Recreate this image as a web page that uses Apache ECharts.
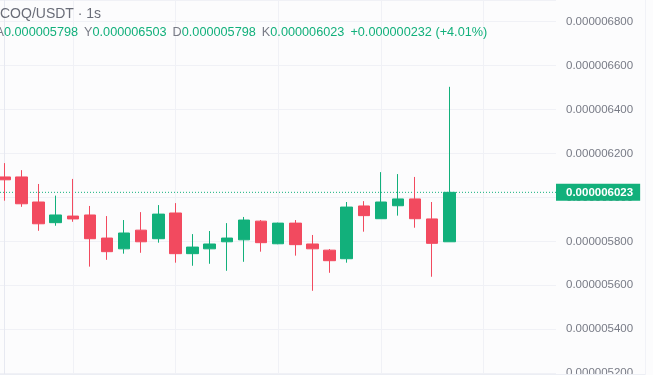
<!DOCTYPE html>
<html><head><meta charset="utf-8">
<script src="https://cdn.jsdelivr.net/npm/echarts@6/dist/echarts.min.js"></script>
<style>html,body{margin:0;padding:0;background:#fcfcfd}#c{width:653px;height:383px}</style>
</head><body><div id="c"></div>
<script>
const symbolTitle = 'COQ/USDT · 1s';
const ohlcLetters = ['A', 'Y', 'D', 'K'];
const opens  = [0.000006093,0.000006093,0.000005979,0.000005885,0.000005915,0.000005920,0.000005815,0.000005766,0.000005851,0.000005812,0.000005929,0.000005744,0.000005766,0.000005798,0.000005807,0.000005892,0.000005789,0.000005883,0.000005788,0.000005760,0.000005721,0.000005961,0.000005903,0.000005962,0.000005993,0.000005902,0.000005798];
const closes = [0.000006080,0.000005971,0.000005880,0.000005920,0.000005902,0.000005812,0.000005753,0.000005838,0.000005798,0.000005924,0.000005744,0.000005774,0.000005788,0.000005815,0.000005897,0.000005794,0.000005883,0.000005785,0.000005766,0.000005712,0.000005956,0.000005917,0.000005979,0.000005993,0.000005903,0.000005791,0.000006023];
const lows   = [0.000005985,0.000005957,0.000005848,0.000005871,0.000005889,0.000005685,0.000005716,0.000005744,0.000005748,0.000005794,0.000005703,0.000005689,0.000005698,0.000005666,0.000005707,0.000005753,0.000005787,0.000005735,0.000005575,0.000005657,0.000005703,0.000005844,0.000005903,0.000005917,0.000005862,0.000005639,0.000005798];
const highs  = [0.000006156,0.000006124,0.000006061,0.000006008,0.000006084,0.000005961,0.000005915,0.000005897,0.000005933,0.000005965,0.000005974,0.000005833,0.000005847,0.000005883,0.000005911,0.000005897,0.000005885,0.000005897,0.000005829,0.000005765,0.000005979,0.000005983,0.000006115,0.000006106,0.000006093,0.000005979,0.000006503];
const gridTimes = [4, 10, 16, 22, 28];

const GREEN = '#12b07b', RED = '#f24a5f', GREY = '#787b86';
const FONT = '"Liberation Sans", Arial, sans-serif';
const X_MIN = -0.25, X_MAX = 32.23;
const n = opens.length;
const last = n - 1;
const lastClose = closes[last];
const change = lastClose - closes[last - 1];
const pct = change / closes[last - 1] * 100;
const fmt = v => v.toFixed(9);

const hdrVals = [opens[last], highs[last], lows[last], closes[last]];
let hdr = '';
hdrVals.forEach((v, i) => { hdr += '{' + (i ? 'l' : 'l0') + '|' + ohlcLetters[i] + '}{v|' + fmt(v) + '}'; });
hdr += '{c|' + (change >= 0 ? '+' : '') + fmt(change) + ' (' + (pct >= 0 ? '+' : '') + pct.toFixed(2) + '%)}';

const chart = echarts.init(document.getElementById('c'), null, {renderer: 'canvas'});
chart.setOption({
  animation: false,
  backgroundColor: '#fcfcfd',
  grid: {left: 0, right: 97, top: 0, bottom: 8},
  xAxis: {
    type: 'value', min: X_MIN, max: X_MAX,
    axisLine: {show: false}, axisTick: {show: false, customValues: gridTimes},
    axisLabel: {show: false},
    splitLine: {show: true, lineStyle: {color: '#f0f1f6'}}
  },
  yAxis: {
    type: 'value', position: 'right', min: 0.000005192, max: 0.000006898, splitNumber: 8,
    axisLine: {show: true, lineStyle: {color: '#e7e9f1'}},
    axisTick: {show: false},
    axisLabel: {
      margin: 10, fontSize: 11.5, fontFamily: FONT, color: GREY,
      formatter: v => { const k = v * 1e9 / 200; return Math.abs(k - Math.round(k)) < 1e-6 ? fmt(v) : ''; }
    },
    splitLine: {show: true, lineStyle: {color: '#f0f1f6'}}
  },
  graphic: [
    {type: 'text', x: 0, y: 14, z: 100, style: {text: symbolTitle, fill: '#6a6d78', font: '14px ' + FONT, verticalAlign: 'middle', align: 'left'}},
    {type: 'text', x: -4.5, y: 32.5, z: 100, style: {
      text: hdr, verticalAlign: 'middle', align: 'left', font: '12.7px ' + FONT,
      rich: {
        l0: {fill: GREY, fontSize: 12.7, fontFamily: FONT},
        l: {fill: GREY, fontSize: 12.7, fontFamily: FONT, padding: [0, 0, 0, 6]},
        v: {fill: GREEN, fontSize: 12.7, fontFamily: FONT},
        c: {fill: GREEN, fontSize: 12.7, fontFamily: FONT, padding: [0, 0, 0, 6]}
      }}},
    {type: 'rect', left: 0, bottom: 0, z: 100, shape: {width: 653, height: 8}, style: {fill: '#ffffff'}},
    {type: 'rect', left: 0, bottom: 8, z: 100, shape: {width: 645, height: 1}, style: {fill: '#eceef4'}},
    {type: 'rect', left: 645, top: 0, z: 100, shape: {width: 1, height: 375}, style: {fill: '#f1f2f7'}}
  ],
  series: [{
    type: 'candlestick',
    barWidth: 12,
    z: 3,
    data: opens.map((o, i) => [i, o, closes[i], lows[i], highs[i]]),
    itemStyle: {color: GREEN, color0: RED, borderColor: GREEN, borderColor0: RED, borderWidth: 1}
  }, {
    type: 'line',
    z: 2,
    data: [[X_MIN, lastClose], [X_MAX, lastClose]],
    showSymbol: false, symbol: 'none', silent: true,
    lineStyle: {color: GREEN, type: [1, 2], width: 1},
    endLabel: {
      show: true, distance: 0, formatter: () => fmt(lastClose),
      color: '#ffffff', backgroundColor: GREEN, padding: [3, 7, 2, 10],
      fontSize: 11.5, fontFamily: FONT, fontWeight: 'bold'
    }
  }]
});
</script></body></html>
